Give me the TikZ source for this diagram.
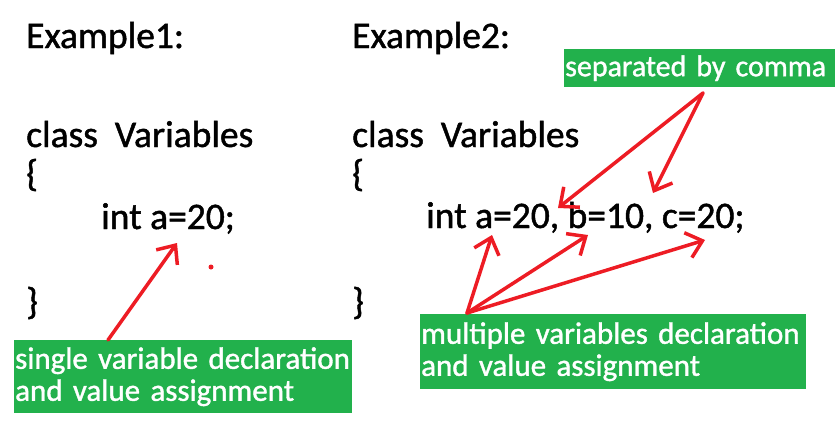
\documentclass[tikz,border=0pt]{standalone}
\usepackage{fontspec}
\setmainfont{Carlito}[BoldFont=Carlito, BoldFeatures={FakeBold=1.2}]
\usepackage{tikz}
\usetikzlibrary{arrows.meta, positioning}
\definecolor{paintred}{HTML}{ED1C24}
\definecolor{paintgreen}{HTML}{22B14C}

\begin{document}
\begin{tikzpicture}[x=1pt, y=-1pt,
    code/.style={anchor=base west, inner sep=0pt, font=\fontsize{37.5}{40}\selectfont\bfseries},
    note/.style={fill=paintgreen, text=white, anchor=north west, inner xsep=1pt, align=left, font=\fontsize{31}{32}\selectfont\bfseries},
    pointer/.style={draw=paintred, line width=3.5pt, line cap=round, -{Straight Barb[length=15pt, width=26pt, line width=3.5pt]}}]

            % Khung hình
            \useasboundingbox (0,0) rectangle (835,431);

            % Ví dụ 1
            \node[code] (title1) at (26,48) {Example1:}; % Tiêu đề
            \node[code] (class1) at (26,147) {class\ \ Variables};
            \node[code] (open1) at (26,186) {\{};
            \node[code] (decl1) at (101,229) {int a=20;};
            \node[code] (close1) at (26,314) {\}};

            % Ví dụ 2
            \node[code] (title2) at (352,48) {Example2:}; % Tiêu đề
            \node[code] (class2) at (352,147) {class\ \ Variables};
            \node[code] (open2) at (352,186) {\{};
            \node[code] (decl2) at (426,228) {int a=20, b=10, c=20;};
            \node[code] (close2) at (352,314) {\}};

            % Các ô ghi chú
            \node[note, text width=336pt, minimum height=73pt] (single) at (14,340) {single variable declaration\\and value assignment};
            \node[note, text width=384pt, minimum height=75pt] (multi) at (420,314) {multiple variables declaration\\and value assignment};
            \node[note, text width=269pt, minimum height=38pt, font=\fontsize{30}{32}\selectfont\bfseries] (comma) at (564,49) {separated by comma};

            % Điểm đầu và điểm cuối của mũi tên
            \coordinate (s1) at (108,340);
            \coordinate (t1) at (177,243);
            \coordinate (s2) at (467,313);
            \coordinate (ta) at (492,235);
            \coordinate (tb) at (588,235);
            \coordinate (tc) at (705,240);
            \coordinate (s3) at (703,93);
            \coordinate (tl) at (558,208);
            \coordinate (tr) at (653,193);

            % Vẽ các mũi tên
            \draw[pointer] (s1) -- (t1); % Ví dụ 1
            \draw[pointer] (s2) -- (ta); % Tới a
            \draw[pointer] (s2) -- (tb); % Tới b
            \draw[pointer] (s2) -- (tc); % Tới c
            \draw[pointer] (s3) -- (tl); % Dấu phẩy thứ nhất
            \draw[pointer] (s3) -- (tr); % Dấu phẩy thứ hai

            % Chấm đỏ
            \node[circle, fill=paintred, inner sep=0pt, minimum size=5pt] (dot) at (211,267) {};

\end{tikzpicture}
\end{document}
